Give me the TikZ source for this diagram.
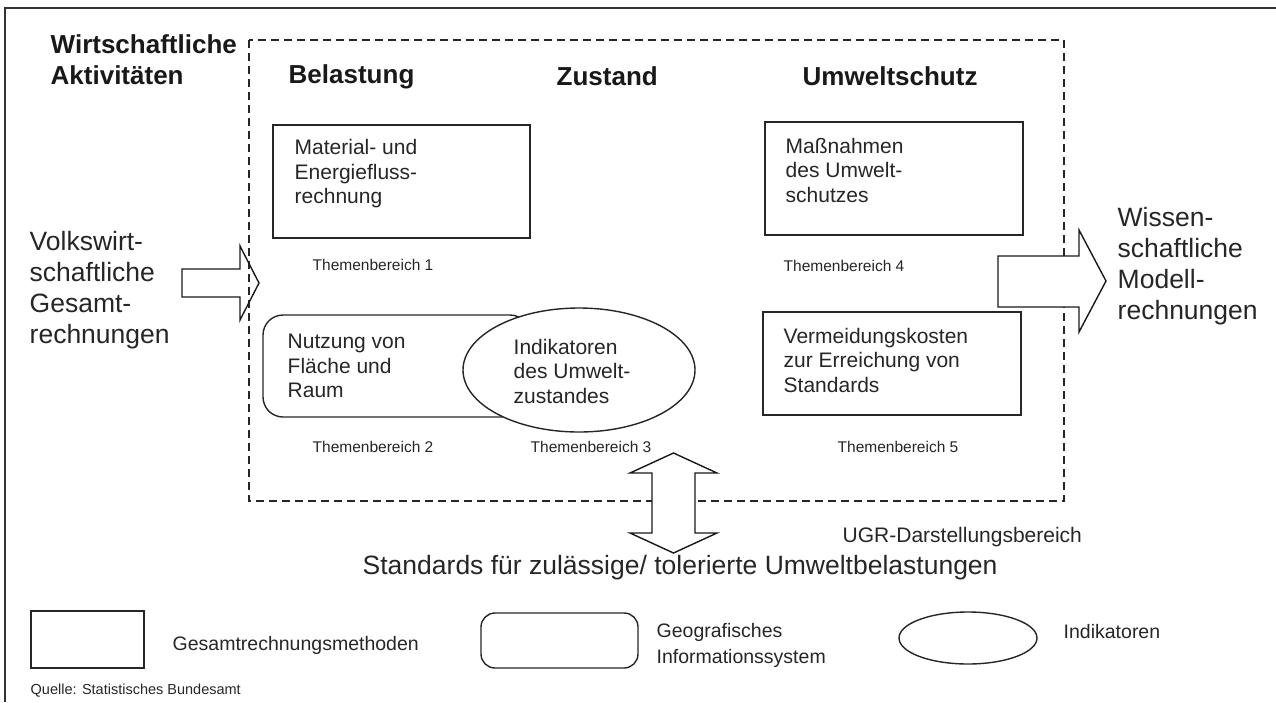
\documentclass[tikz,border=0pt]{standalone}
\usepackage{fontspec}
\setmainfont{Liberation Sans}
\usetikzlibrary{shapes.geometric}
\begin{document}
\begin{tikzpicture}[x=1pt,y=-1pt,
  line width=1.4pt,
  big/.style={font=\fontsize{26.5}{31}\selectfont, align=left, inner sep=0pt, anchor=west, text=black!85},
  head/.style={font=\bfseries\fontsize{26}{31}\selectfont, align=left, inner sep=0pt, anchor=west, text=black!90},
  boxtxt/.style={font=\fontsize{21}{24.5}\selectfont, align=left, inner sep=0pt, anchor=west, text=black!85},
  small/.style={font=\fontsize{15.5}{18}\selectfont, inner sep=0pt, anchor=west, text=black!85},
  legtxt/.style={font=\fontsize{19.5}{26}\selectfont, align=left, inner sep=0pt, anchor=west, text=black!85},
  methodbox/.style={draw=black!85, rectangle, inner sep=0pt},
  dashbox/.style={draw=black!85, line width=1.3pt, dash pattern=on 8pt off 5pt},
  fatarrow/.style={draw=black!90, line width=1.4pt, line join=miter}
]
\useasboundingbox (0,0) rectangle (1276,702);
% outer frame
\coordinate (fTR) at (1276,8);
\coordinate (fTL) at (5,8);
\coordinate (fBL) at (5,702);
\draw[draw=black!80, line width=1.6pt] (fTR) -- (fTL) -- (fBL);

% dashed area
\coordinate (dTL) at (249,40);
\coordinate (dBR) at (1064,501);
\draw[dashbox] (dTL) rectangle (dBR);

% headings
\node[head] (wirt) at (50,59.5) {Wirtschaftliche\\Aktivitäten};
\node[head] (bel) at (288,77) {Belastung};
\node[head] (zus) at (556,76) {Zustand};
\node[head] (umw) at (802,76) {Umweltschutz};

% boxes
\draw[methodbox] (273,125) rectangle (530,238);
\node[boxtxt] (t1) at (294,174) {Material- und\\Energiefluss-\\rechnung};
\draw[methodbox] (765,122) rectangle (1023,235);
\node[boxtxt] (t4) at (785,170) {Maßnahmen\\des Umwelt-\\schutzes};
\draw[methodbox] (763,312) rectangle (1021,415);
\node[boxtxt] (t5) at (783,360) {Vermeidungskosten\\zur Erreichung von\\Standards};

\draw[draw=black!85, rounded corners=20pt] (263,315) rectangle (530,417);
\node[boxtxt] (t2) at (287,366) {Nutzung von\\Fläche und\\Raum};
\draw[draw=black!85, fill=white] (579,370) ellipse [x radius=116, y radius=62];
\node[boxtxt] (t3) at (513,371) {Indikatoren\\des Umwelt-\\zustandes};

% Themenbereiche
\node[small] (th1) at (312,265) {Themenbereich 1};
\node[small] (th4) at (783,266) {Themenbereich 4};
\node[small] (th2) at (312,447) {Themenbereich 2};
\node[small] (th3) at (530,447) {Themenbereich 3};
\node[small] (th5) at (837,447) {Themenbereich 5};

% left arrow
\draw[fatarrow] (182,269) -- (240,269) -- (240,246) -- (259,283) -- (240,320) -- (240,297) -- (182,297) -- cycle;
\node[big] (vgr) at (29,290) {Volkswirt-\\schaftliche\\Gesamt-\\rechnungen};

% right arrow
\draw[fatarrow, fill=white] (998,256) -- (1079,256) -- (1079,230) -- (1106,281) -- (1079,332) -- (1079,307) -- (998,307) -- cycle;
\node[big] (wmr) at (1117,266) {Wissen-\\schaftliche\\Modell-\\rechnungen};

% double arrow
\draw[fatarrow, fill=white] (652,473) -- (630,473) -- (673.5,453) -- (717,473) -- (695,473) -- (695,533) -- (717,533) -- (673.5,553) -- (630,533) -- (652,533) -- cycle;

\node[boxtxt] (ugr) at (842,537) {UGR-Darstellungsbereich};
\node[big] (std) at (362,568) {Standards für zulässige/ tolerierte Umweltbelastungen};

% legend
\draw[methodbox] (31,611) rectangle (144,668);
\node[legtxt] (l1) at (172,645) {Gesamtrechnungsmethoden};
\draw[draw=black!85, rounded corners=14pt] (481,613) rectangle (638,668);
\node[legtxt] (l2) at (656,645) {Geografisches\\Informationssystem};
\draw[draw=black!85] (968,638) ellipse [x radius=69, y radius=26];
\node[legtxt] (l3) at (1063,632) {Indikatoren};
\node[font=\fontsize{14.5}{16}\selectfont, inner sep=0pt, anchor=west, text=black!85] (src) at (30,691) {Quelle: Statistisches Bundesamt};
\end{tikzpicture}
\end{document}
